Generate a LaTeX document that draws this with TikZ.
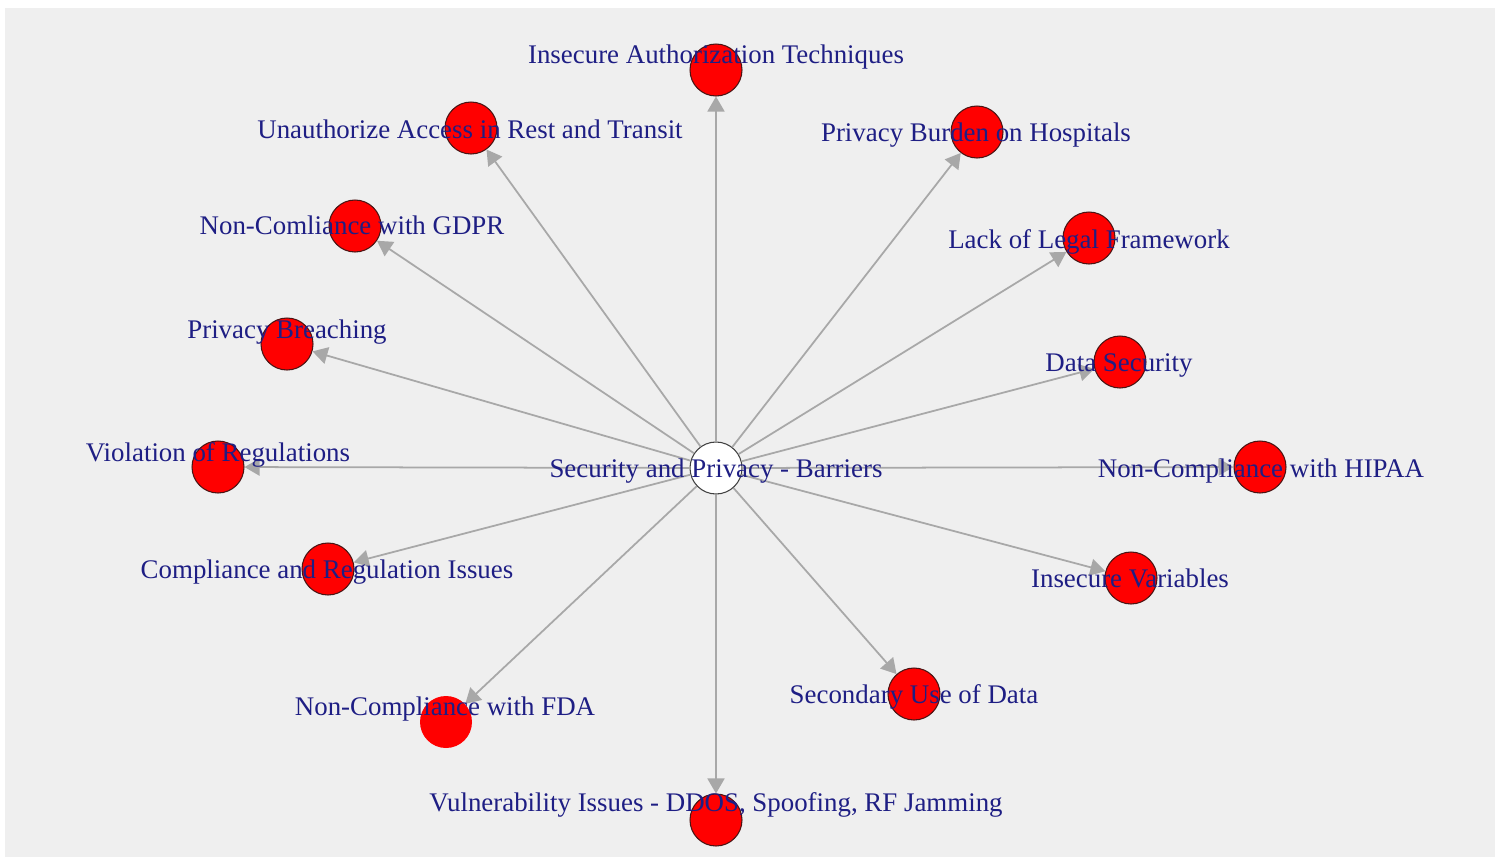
\documentclass[tikz,border=0pt]{standalone}
\usepackage{fontspec}
\setmainfont{Liberation Serif}
\usetikzlibrary{arrows.meta}
\definecolor{panel}{HTML}{EFEFEF}
\definecolor{inkblue}{HTML}{1E1E84}
\definecolor{edgegray}{HTML}{A8A8A8}
\definecolor{rim}{HTML}{4A1414}

\begin{document}
\begin{tikzpicture}[
    x=0.02cm, y=-0.02cm,
    vertex/.style={circle, draw=rim, line width=0.6pt, fill=red, minimum size=1.04cm, inner sep=0pt},
    hub/.style={vertex, fill=white, draw=black!75},
    vlabel/.style={anchor=base, text=inkblue, inner sep=0pt, font=\fontsize{15.3}{18}\selectfont},
    edge/.style={-{Triangle[length=0.3cm, width=0.34cm]}, line width=1pt, draw=edgegray},
  ]
  % canvas and grey plotting panel
  \fill[white] (0,0) rectangle (1501,859);
  \fill[panel] (5,8) rectangle (1495,857);

  % vertices
  \node[hub] (hub) at (716,468) {};
  \node[vertex] (authz) at (716,70) {};
  \node[vertex] (access) at (471,128) {};
  \node[vertex] (burden) at (977,132) {};
  \node[vertex] (gdpr) at (355,226) {};
  \node[vertex] (legal) at (1089,238) {};
  \node[vertex] (breach) at (287,344) {};
  \node[vertex] (datasec) at (1120,362) {};
  \node[vertex] (violation) at (218,467) {};
  \node[vertex] (hipaa) at (1260,467) {};
  \node[vertex] (compliance) at (328,569) {};
  \node[vertex] (variables) at (1131,578) {};
  \node[vertex] (secondary) at (914,694) {};
  \node[vertex, draw=none] (fda) at (446,722) {};
  \node[vertex] (vuln) at (716,820) {};

  % edges from the hub
  \draw[edge] (hub) -- (authz);
  \draw[edge] (hub) -- (access);
  \draw[edge] (hub) -- (burden);
  \draw[edge] (hub) -- (gdpr);
  \draw[edge] (hub) -- (legal);
  \draw[edge] (hub) -- (breach);
  \draw[edge] (hub) -- (datasec);
  \draw[edge] (hub) -- (violation);
  \draw[edge] (hub) -- (hipaa);
  \draw[edge] (hub) -- (compliance);
  \draw[edge] (hub) -- (variables);
  \draw[edge] (hub) -- (secondary);
  \draw[edge] (hub) -- (fda);
  \draw[edge] (hub) -- (vuln);

  % labels on top
  \node[vlabel] (hub-l) at (716,477) {Security and Privacy - Barriers};
  \node[vlabel] (authz-l) at (716,63) {Insecure Authorization Techniques};
  \node[vlabel] (access-l) at (470,138) {Unauthorize Access in Rest and Transit};
  \node[vlabel] (burden-l) at (976,141) {Privacy Burden on Hospitals};
  \node[vlabel] (gdpr-l) at (352,234) {Non-Comliance with GDPR};
  \node[vlabel] (legal-l) at (1089,248) {Lack of Legal Framework};
  \node[vlabel] (breach-l) at (287,338) {Privacy Breaching};
  \node[vlabel] (datasec-l) at (1119,371) {Data Security};
  \node[vlabel] (violation-l) at (218,461) {Violation of Regulations};
  \node[vlabel] (hipaa-l) at (1261,477) {Non-Compliance with HIPAA};
  \node[vlabel] (compliance-l) at (327,578) {Compliance and Regulation Issues};
  \node[vlabel] (variables-l) at (1130,587) {Insecure Variables};
  \node[vlabel] (secondary-l) at (914,703) {Secondary Use of Data};
  \node[vlabel] (fda-l) at (445,715) {Non-Compliance with FDA};
  \node[vlabel] (vuln-l) at (716,811) {Vulnerability Issues - DDOS, Spoofing, RF Jamming};
\end{tikzpicture}
\end{document}
